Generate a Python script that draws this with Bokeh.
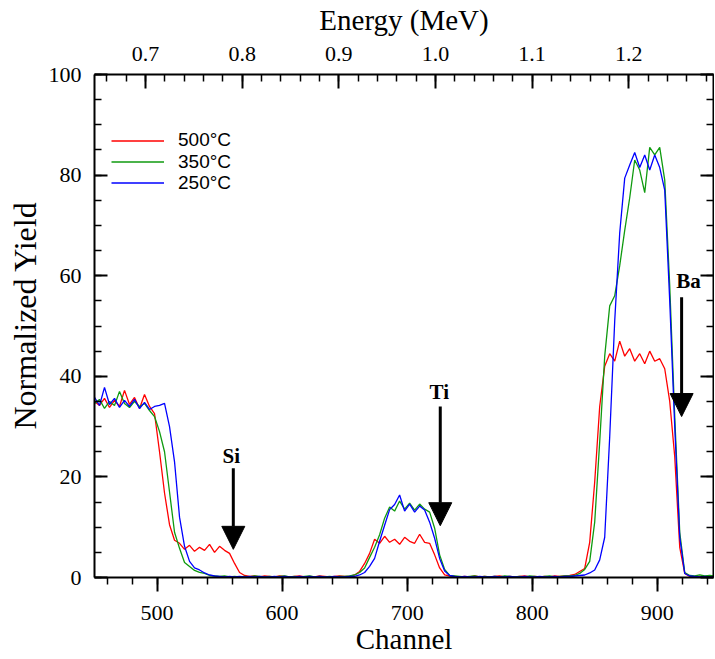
from bokeh.plotting import figure
from bokeh.models import (LinearAxis, Range1d, SingleIntervalTicker, PrintfTickFormatter,
                          Legend, LegendItem, Arrow, NormalHead, ColumnDataSource,
                          CustomJSTickFormatter, Title)
from bokeh.core.properties import value
from bokeh.embed import file_html
from bokeh.resources import INLINE

# ---------------- data ----------------
channel = list(range(450, 947, 4))

yield_500 = [
    35.0, 34.2, 35.6, 33.8, 35.2, 34.0, 37.2, 34.4, 35.8, 33.6,
    36.4, 34.0, 32.6, 25.0, 16.8, 10.5, 7.4, 6.8, 5.6, 6.4,
    5.2, 6.0, 5.4, 6.6, 5.0, 6.2, 5.4, 4.8, 2.8, 1.0,
    0.4, 0.2, 0.3, 0.1, 0.3, 0.2, 0.1, 0.3, 0.2, 0.1,
    0.2, 0.3, 0.1, 0.2, 0.1, 0.3, 0.2, 0.1, 0.2, 0.3,
    0.2, 0.2, 0.5, 1.2, 2.8, 4.8, 7.6, 6.8, 8.2, 7.0,
    7.6, 6.6, 8.0, 7.2, 6.8, 8.6, 7.0, 6.8, 4.5, 1.9,
    0.5, 0.3, 0.2, 0.1, 0.2, 0.1, 0.3, 0.1, 0.2, 0.1,
    0.2, 0.3, 0.1, 0.2, 0.1, 0.2, 0.3, 0.1, 0.2, 0.1,
    0.2, 0.1, 0.3, 0.2, 0.3, 0.4, 0.6, 1.2, 1.8, 7.0,
    19.0, 34.0, 42.0, 44.5, 43.0, 47.0, 44.0, 45.5, 43.0, 44.5,
    42.5, 45.0, 43.0, 43.5, 41.5, 35.0, 24.0, 6.0, 0.8, 0.2,
    0.1, 0.2, 0.1, 0.2, 0.1,
]

yield_350 = [
    34.6, 35.4, 33.6, 35.0, 34.2, 37.0, 34.6, 33.8, 35.0, 34.0,
    34.6, 33.2, 32.0, 29.0, 25.0, 17.0, 9.0, 5.8, 3.0, 2.2,
    1.4, 1.0, 0.8, 0.4, 0.3, 0.2, 0.3, 0.1, 0.2, 0.1,
    0.2, 0.1, 0.3, 0.2, 0.1, 0.2, 0.1, 0.2, 0.3, 0.1,
    0.2, 0.1, 0.2, 0.3, 0.1, 0.2, 0.1, 0.2, 0.1, 0.2,
    0.2, 0.3, 0.5, 1.0, 1.9, 4.0, 6.0, 8.5, 11.8, 14.0,
    13.2, 15.2, 13.6, 14.8, 13.4, 14.6, 13.6, 13.0, 9.8, 4.5,
    1.6, 0.4, 0.3, 0.2, 0.1, 0.2, 0.3, 0.1, 0.2, 0.1,
    0.2, 0.1, 0.3, 0.2, 0.1, 0.2, 0.1, 0.3, 0.2, 0.1,
    0.2, 0.3, 0.1, 0.2, 0.3, 0.3, 0.4, 0.8, 1.6, 3.2,
    11.0, 27.0, 44.0, 54.0, 56.0, 62.0, 69.0, 75.5, 83.0, 81.0,
    76.5, 85.5, 84.0, 85.5, 79.0, 58.0, 32.0, 9.0, 1.0, 0.4,
    0.3, 0.5, 0.3, 0.4, 0.3,
]

yield_250 = [
    35.8, 34.2, 37.8, 34.4, 35.6, 33.8, 35.2, 34.0, 35.4, 33.6,
    34.8, 33.4, 34.0, 34.2, 34.6, 30.0, 23.0, 12.0, 6.2, 3.2,
    1.9, 1.5, 0.9, 0.5, 0.3, 0.2, 0.1, 0.2, 0.1, 0.2,
    0.1, 0.2, 0.1, 0.2, 0.1, 0.1, 0.2, 0.1, 0.2, 0.1,
    0.1, 0.2, 0.1, 0.2, 0.1, 0.2, 0.1, 0.1, 0.2, 0.1,
    0.1, 0.2, 0.2, 0.5, 1.0, 2.2, 3.8, 7.2, 10.4, 13.5,
    14.5, 16.4, 13.2, 14.6, 13.0, 14.2, 13.4, 11.0, 7.8, 3.8,
    1.3, 0.4, 0.2, 0.1, 0.2, 0.1, 0.1, 0.2, 0.1, 0.1,
    0.2, 0.1, 0.1, 0.2, 0.1, 0.1, 0.2, 0.1, 0.1, 0.2,
    0.1, 0.1, 0.2, 0.1, 0.2, 0.2, 0.3, 0.4, 0.5, 0.9,
    1.5, 3.5, 8.0, 28.0, 51.0, 68.5, 79.4, 82.0, 84.5, 81.5,
    84.0, 81.0, 84.0, 81.5, 77.0, 55.0, 30.0, 8.0, 0.8, 0.3,
    0.2, 0.1, 0.2, 0.1, 0.2,
]

series_names = ["500°C", "350°C", "250°C"]
series_colors = ["#ff0000", "#0f9a0f", "#0000ff"]

# channel -> energy calibration (MeV)
energy_at_start = 0.6472
energy_per_channel = 0.001294
channel_start, channel_end = 450, 945

# element edge markers
marker_labels = ["Si", "Ti", "Ba"]
marker_channel = [561, 726.5, 919.5]
marker_top = [21.7, 34.0, 55.7]
marker_tip = [5.6, 10.3, 32.0]
marker_label_dx = [-2, -1, 7]
marker_label_dy = [0, -2, -4]

# ---------------- figure ----------------
SERIF = "Liberation Serif"

p = figure(frame_width=619, frame_height=503,
           x_range=(channel_start, channel_end), y_range=(0, 100),
           output_backend="svg", toolbar_location=None,
           min_border_left=94, min_border_top=72, min_border_right=1,
           min_border_bottom=80)
p.grid.visible = False
p.outline_line_color = None
p.background_fill_color = "white"


def style_axis(ax, tick_in, tick_out):
    ax.axis_line_width = 2
    ax.axis_line_color = "black"
    ax.major_tick_line_color = "black"
    ax.minor_tick_line_color = "black"
    ax.major_tick_line_width = 2
    ax.minor_tick_line_width = 1.5
    ax.major_tick_in = tick_in[0]
    ax.major_tick_out = tick_out[0]
    ax.minor_tick_in = tick_in[1]
    ax.minor_tick_out = tick_out[1]
    ax.major_label_text_font = SERIF
    ax.major_label_text_font_size = "22px"
    ax.major_label_text_color = "black"
    ax.axis_label_text_font = SERIF
    ax.axis_label_text_font_size = "29px"
    ax.axis_label_text_font_style = "normal"
    ax.axis_label_text_color = "black"


# bottom axis (channel)
xb = p.xaxis[0]
xb.ticker = SingleIntervalTicker(interval=100, num_minor_ticks=5)
xb.axis_label = "Channel"
style_axis(xb, (0, 0), (14, 7))
xb.major_label_standoff = 14
xb.axis_label_standoff = 0

# left axis; its title is a side title so it can sit a little above centre
yl = p.yaxis[0]
yl.ticker = SingleIntervalTicker(interval=20, num_minor_ticks=4)
style_axis(yl, (13, 7), (0, 0))
yl.major_label_standoff = 13
p.add_layout(Title(text="Normalized Yield", align="left", offset=148,
                   vertical_align="middle", standoff=4,
                   text_font=SERIF, text_font_size="32px",
                   text_font_style="normal", text_color="black"), "left")

# top axis (energy)
p.extra_x_ranges = {"energy": Range1d(
    energy_at_start,
    energy_at_start + energy_per_channel * (channel_end - channel_start))}
xt = LinearAxis(x_range_name="energy", axis_label="Energy (MeV)",
                ticker=SingleIntervalTicker(interval=0.1, num_minor_ticks=5),
                formatter=PrintfTickFormatter(format="%.1f"))
style_axis(xt, (14, 7), (0, 0))
xt.major_label_standoff = 14
xt.axis_label_standoff = 8
p.add_layout(xt, "above")

# right axis (ticks only, no labels)
yr = LinearAxis(ticker=SingleIntervalTicker(interval=20, num_minor_ticks=4),
                formatter=CustomJSTickFormatter(code="return ''"))
style_axis(yr, (13, 7), (0, 0))
yr.major_label_standoff = 0
p.add_layout(yr, "right")

# ---------------- spectra ----------------
renderers = []
for vals, col in zip([yield_500, yield_350, yield_250], series_colors):
    r = p.line(channel, vals, line_color=col, line_width=1.3)
    renderers.append(r)

# one single-entry legend per series (row pitch chosen so boxes do not overlap)
legend_row_offset = [425.6, 404.4, 383.2]
for name, r, yoff in zip(series_names, renderers, legend_row_offset):
    lg = Legend(items=[LegendItem(label=name, renderers=[r])],
                location=(17, yoff), orientation="vertical",
                glyph_width=53, glyph_height=19, label_height=19,
                spacing=0, padding=0, margin=0, label_standoff=14,
                label_text_font="Liberation Sans", label_text_font_size="19px",
                label_text_color="black",
                border_line_color=None, background_fill_alpha=0)
    p.add_layout(lg)

# ---------------- markers ----------------
msrc = ColumnDataSource(dict(x=marker_channel, top=marker_top, tip=marker_tip,
                             label=marker_labels, dx=marker_label_dx,
                             dy=marker_label_dy))
p.add_layout(Arrow(source=msrc, x_start="x", y_start="top", x_end="x", y_end="tip",
                   line_width=3, line_color="black",
                   end=NormalHead(size=23, fill_color="black", line_color="black",
                                  line_width=1)))
p.text(x="x", y="top", text="label", source=msrc, x_offset="dx", y_offset="dy",
       text_font=value(SERIF), text_font_style="bold", text_font_size="21px",
       text_align="center", text_baseline="bottom", text_color="black")

open("out.html", "w").write(file_html(p, INLINE))
